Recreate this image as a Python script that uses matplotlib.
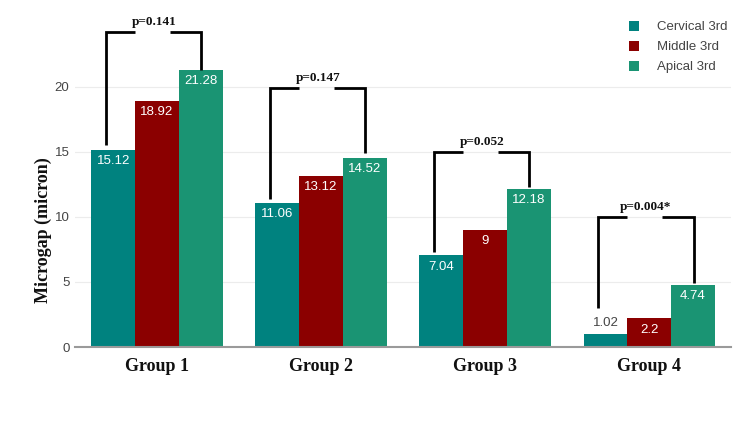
import matplotlib
matplotlib.use("Agg")
import matplotlib.pyplot as plt
import numpy as np

groups = ["Group 1", "Group 2", "Group 3", "Group 4"]
series = ["Cervical 3rd", "Middle 3rd", "Apical 3rd"]
cervical = [15.12, 11.06, 7.04, 1.02]
middle = [18.92, 13.12, 9, 2.2]
apical = [21.28, 14.52, 12.18, 4.74]
value_labels = [["15.12", "11.06", "7.04", "1.02"],
                ["18.92", "13.12", "9", "2.2"],
                ["21.28", "14.52", "12.18", "4.74"]]
p_labels = ["p=0.141", "p=0.147", "p=0.052", "p=0.004*"]
bracket_top = [24.2, 19.9, 15.0, 10.0]
bracket_left_end = [15.5, 11.4, 7.3, 3.0]
bracket_right_end = [21.3, 14.9, 12.3, 4.95]
yticks = [0, 5, 10, 15, 20]

colors = ["#00827F", "#8B0000", "#1A9473"]

fig = plt.figure(figsize=(7.5, 4.22), dpi=100)
ax = fig.add_axes([0.1, 0.1777, 0.875, 0.8013])

x = np.arange(len(groups))
w = 0.267
data = [cervical, middle, apical]
for i, (vals, c, name) in enumerate(zip(data, colors, series)):
    xs = x + (i - 1) * w
    ax.bar(xs, vals, width=w, color=c, label=name, zorder=3)
    for xi, v, lab in zip(xs, vals, value_labels[i]):
        if v < 2:
            ax.annotate(lab, (xi, v), xytext=(0, 8), textcoords="offset points",
                        ha="center", va="center", color="#444444", fontsize=9.5,
                        family="Liberation Sans", zorder=4)
        else:
            ax.annotate(lab, (xi, v), xytext=(0, -8), textcoords="offset points",
                        ha="center", va="center", color="white", fontsize=9.5,
                        family="Liberation Sans", zorder=4)

# brackets
lo, ro = -0.31, 0.27
g_l, g_r = -0.134, 0.079
for gi in range(len(groups)):
    top = bracket_top[gi]
    ax.plot([gi + lo, gi + lo, gi + g_l], [bracket_left_end[gi], top, top],
            color="black", lw=2, solid_capstyle="butt", solid_joinstyle="miter", zorder=5)
    ax.plot([gi + g_r, gi + ro, gi + ro], [top, top, bracket_right_end[gi]],
            color="black", lw=2, solid_capstyle="butt", solid_joinstyle="miter", zorder=5)
    ax.annotate(p_labels[gi], (gi - 0.02, top), xytext=(0, 7.5), textcoords="offset points",
                ha="center", va="center", fontsize=9.5, fontweight="bold",
                family="Liberation Serif", color="#111111", zorder=6)

ax.set_xlim(-0.5, 3.5)
ax.set_ylim(0, 26)
ax.set_yticks(yticks)
ax.set_yticklabels([str(t) for t in yticks], fontsize=9.5, color="#444444", family="Liberation Sans")
ax.set_xticks(x)
ax.set_xticklabels(groups, fontsize=13, fontweight="bold", family="Liberation Serif", color="#111111")
ax.tick_params(axis="y", length=0, pad=4)
ax.tick_params(axis="x", length=0, pad=8)
for s in ["top", "right", "left"]:
    ax.spines[s].set_visible(False)
ax.spines["bottom"].set_color("#9a9a9a")
ax.spines["bottom"].set_linewidth(1.5)
ax.spines["bottom"].set_zorder(6)
ax.yaxis.grid(True, color="#ececec", lw=0.8, zorder=0)
ax.set_axisbelow(True)

fig.text(43.5 / 750, 1 - 230 / 422, "Microgap (micron)", rotation=90, ha="center", va="center",
         fontsize=13, fontweight="bold", family="Liberation Serif", color="#111111")

leg = ax.legend(loc="upper left", bbox_to_anchor=(0.832, 0.988), frameon=False,
                handlelength=0.8, handleheight=0.8, handletextpad=1.3,
                labelspacing=0.55, borderaxespad=0.2, prop={"family": "Liberation Sans", "size": 9.5})
for t in leg.get_texts():
    t.set_color("#444444")

fig.savefig("out.png", dpi=100)
